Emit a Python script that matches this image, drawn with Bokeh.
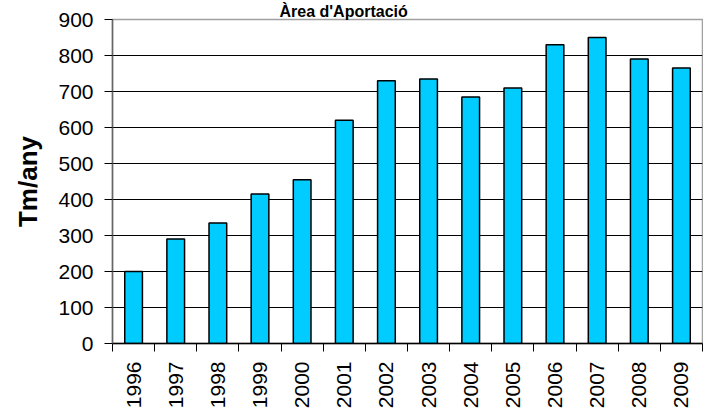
import math
from bokeh.plotting import figure
from bokeh.models import FixedTicker, Range1d, Title
from bokeh.embed import file_html
from bokeh.resources import INLINE

title_text = "Àrea d'Aportació"
y_label = "Tm/any"
years = ["1996", "1997", "1998", "1999", "2000", "2001", "2002",
         "2003", "2004", "2005", "2006", "2007", "2008", "2009"]
values = [200, 290, 335, 415, 455, 620, 730, 735, 685, 710, 830, 850, 790, 765]
y_ticks = [0, 100, 200, 300, 400, 500, 600, 700, 800, 900]

FONT = "Liberation Sans"
W, H = 703, 412

n = len(years)
centers = [i + 0.5 for i in range(n)]
bounds = [float(i) for i in range(n + 1)]

p = figure(width=W, height=H, x_range=Range1d(0, n), y_range=Range1d(0, 900),
           output_backend="svg", toolbar_location=None,
           min_border_left=112, min_border_right=1, min_border_top=19, min_border_bottom=69,
           background_fill_color="white", border_fill_color="white")

p.vbar(x=centers, top=values, width=0.42, fill_color="#00CCFF",
       line_color="black", line_width=1.5)

# axes
p.xaxis.ticker = FixedTicker(ticks=centers, minor_ticks=bounds)
p.xaxis.major_label_overrides = {c: y for c, y in zip(centers, years)}
p.xaxis.major_tick_out = 0
p.xaxis.major_tick_in = 0
p.xaxis.minor_tick_out = 8
p.xaxis.minor_tick_in = 0
p.xaxis.minor_tick_line_color = "black"
p.xaxis.minor_tick_line_width = 1
p.xaxis.major_label_orientation = math.pi / 2
p.xaxis.major_label_standoff = 10
p.xaxis.major_label_text_font = FONT
p.xaxis.major_label_text_font_size = "21px"
p.xaxis.major_label_text_color = "black"
p.xaxis.axis_line_color = "black"
p.xaxis.axis_line_width = 1.5

p.yaxis.ticker = FixedTicker(ticks=y_ticks)
p.yaxis.major_tick_out = 8
p.yaxis.major_tick_in = 0
p.yaxis.major_tick_line_color = "black"
p.yaxis.minor_tick_line_color = None
p.yaxis.major_label_standoff = 11
p.yaxis.major_label_text_font = FONT
p.yaxis.major_label_text_font_size = "21px"
p.yaxis.major_label_text_color = "black"
p.yaxis.axis_line_color = "#666666"
p.yaxis.axis_line_width = 1.5
p.yaxis.axis_label = y_label
p.yaxis.axis_label_text_font = FONT
p.yaxis.axis_label_text_font_size = "26px"
p.yaxis.axis_label_text_font_style = "bold"
p.yaxis.axis_label_text_color = "black"
p.yaxis.axis_label_standoff = 12

p.xgrid.grid_line_color = None
p.ygrid.ticker = FixedTicker(ticks=[t for t in y_ticks if 0 < t < 900])
p.ygrid.grid_line_color = "black"
p.ygrid.grid_line_width = 1

p.outline_line_color = "#a0a0a0"
p.outline_line_width = 1.5

# title in the band above the frame, placed left of the frame centre as in the reference
title = Title(text=title_text, align="left", offset=167, standoff=0,
              text_font=FONT, text_font_size="16px", text_font_style="bold",
              text_color="black")
p.add_layout(title, "above")

open("out.html", "w").write(file_html(p, INLINE))
